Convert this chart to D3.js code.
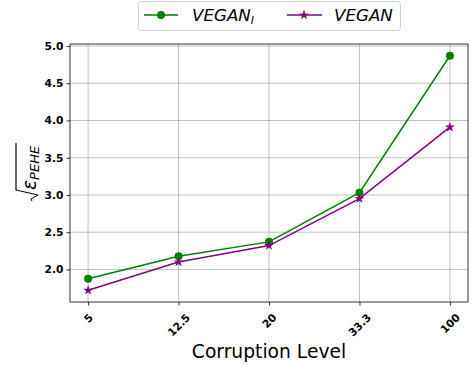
<!DOCTYPE html>
<html><head><meta charset="utf-8">
<script src="https://cdn.jsdelivr.net/npm/d3@7"></script>
<style>body{margin:0;background:#fff;} svg{display:block;font-family:"DejaVu Sans",sans-serif;} svg text{font-family:"DejaVu Sans",sans-serif;}</style>
</head><body>
<svg id="c" width="474" height="365"></svg>
<script>
const categories = ["5", "12.5", "20", "33.3", "100"];
const veganI = [1.875, 2.178, 2.37, 3.03, 4.87];
const vegan = [1.72, 2.10, 2.32, 2.95, 3.91];
const yTicks = [2.0, 2.5, 3.0, 3.5, 4.0, 4.5, 5.0];

const svg = d3.select("#c");
const L = 70, R = 468, T = 44, B = 302;
const x = d3.scaleLinear().domain([-0.2, 4.2]).range([L, R]);
const y = d3.scaleLinear().domain([1.5625, 5.0275]).range([B, T]);
const FT = 10.7;

// grid
const g = svg.append("g");
g.selectAll(".gx").data(categories).enter().append("line")
  .attr("x1", (d,i)=>x(i)).attr("x2",(d,i)=>x(i)).attr("y1",T).attr("y2",B)
  .attr("stroke","#b0b0b0").attr("stroke-width",0.8);
g.selectAll(".gy").data(yTicks).enter().append("line")
  .attr("x1", L).attr("x2", R).attr("y1", d=>y(d)).attr("y2", d=>y(d))
  .attr("stroke","#b0b0b0").attr("stroke-width",0.8);

// axes
const xa = svg.append("g").attr("transform",`translate(0,${B})`)
  .call(d3.axisBottom(x).tickValues(d3.range(categories.length)).tickFormat(i=>categories[i]).tickSize(3.5).tickPadding(3));
xa.attr("font-family",null);
xa.select(".domain").remove();
xa.selectAll("text").attr("font-size",FT).attr("font-weight","bold").attr("fill","#000")
  .attr("text-anchor","middle").attr("dy",null).attr("y",null).attr("dominant-baseline","central")
  .each(function(){
    const w = this.getComputedTextLength();
    const h = FT*0.73;
    const half = (w + h) * 0.7071 / 2;
    d3.select(this).attr("transform",`translate(0,${11 + half}) rotate(-45)`);
  });
const ya = svg.append("g").attr("transform",`translate(${L},0)`)
  .call(d3.axisLeft(y).tickValues(yTicks).tickFormat(d3.format(".1f")).tickSize(3.5).tickPadding(3));
ya.attr("font-family",null);
ya.select(".domain").remove();
ya.selectAll("text").attr("font-size",FT).attr("font-weight","bold").attr("fill","#000");
svg.selectAll(".tick line").attr("stroke","#000").attr("stroke-width",0.8);

// spines
svg.append("rect").attr("x",L).attr("y",T).attr("width",R-L).attr("height",B-T)
  .attr("fill","none").attr("stroke","#000").attr("stroke-width",0.8);

// lines
const line = d3.line().x((d,i)=>x(i)).y(d=>y(d));
svg.append("path").datum(veganI).attr("d",line).attr("fill","none").attr("stroke","#008000").attr("stroke-width",1.5);
svg.append("path").datum(vegan).attr("d",line).attr("fill","none").attr("stroke","#800080").attr("stroke-width",1.5);
svg.selectAll(".m1").data(veganI).enter().append("circle")
  .attr("cx",(d,i)=>x(i)).attr("cy",d=>y(d)).attr("r",4).attr("fill","#008000");
const star = d3.symbol().type(d3.symbolStar).size(30);
svg.selectAll(".m2").data(vegan).enter().append("path").attr("d",star)
  .attr("transform",(d,i)=>`translate(${x(i)},${y(d)})`).attr("fill","#800080");

// x label
svg.append("text").attr("x",(L+R)/2).attr("y",358).attr("text-anchor","middle")
  .attr("font-size",18.7).text("Corruption Level");

// y label
const yl = svg.append("g").attr("transform","translate(36,170) rotate(-90)");
yl.append("path").attr("d","M-20,-20 L-25,2 L-29,-5 L-31,-4")
  .attr("fill","none").attr("stroke","#000").attr("stroke-width",1);
const t = yl.append("text").attr("x",-20).attr("y",0).attr("font-size",18.7).attr("font-style","italic");
t.append("tspan").text("ε");
t.append("tspan").attr("font-size",13).attr("dy",3).text("PEHE");
yl.append("line").attr("x1",-20.5).attr("x2",27).attr("y1",-20).attr("y2",-20).attr("stroke","#000").attr("stroke-width",1.2);

// legend
const lg = svg.append("g");
lg.append("rect").attr("x",138.5).attr("y",1.5).attr("width",262).attr("height",29).attr("rx",3)
  .attr("fill","#fff").attr("stroke","#d0d0d0").attr("stroke-width",1);
lg.append("line").attr("x1",144).attr("x2",178).attr("y1",15).attr("y2",15).attr("stroke","#008000").attr("stroke-width",1.5);
lg.append("circle").attr("cx",161).attr("cy",15).attr("r",4).attr("fill","#008000");
const lt1 = lg.append("text").attr("x",192).attr("y",21).attr("font-size",16.7).attr("font-style","italic");
lt1.append("tspan").text("VEGAN");
lt1.append("tspan").attr("font-size",11).attr("dy",3).text("I");
lg.append("line").attr("x1",287).attr("x2",322).attr("y1",15).attr("y2",15).attr("stroke","#800080").attr("stroke-width",1.5);
lg.append("path").attr("d",star).attr("transform","translate(304,15)").attr("fill","#800080");
lg.append("text").attr("x",334).attr("y",21).attr("font-size",16.7).attr("font-style","italic").text("VEGAN");
</script>
</body></html>
